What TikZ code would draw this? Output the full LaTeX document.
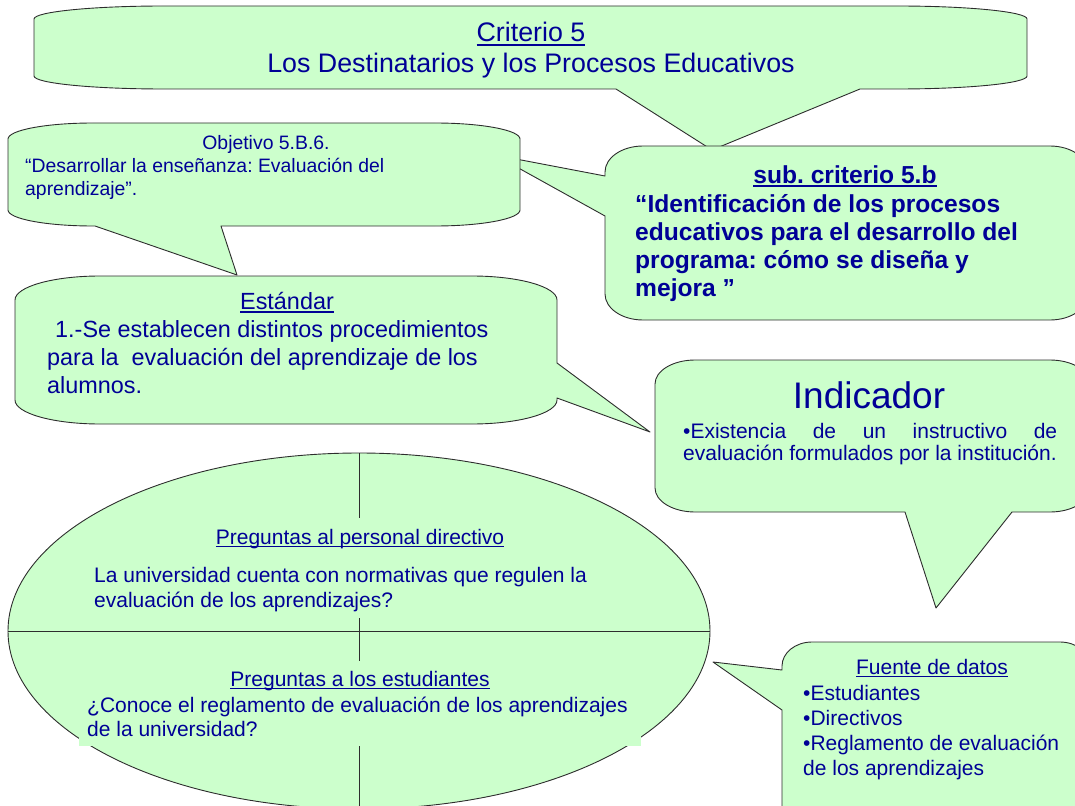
\documentclass[tikz,border=0pt]{standalone}
\usepackage{fontspec}
\setmainfont{Liberation Sans}
\usepackage{tikz}
\usetikzlibrary{calc}
\usepackage{xcolor}
\definecolor{bubblegreen}{RGB}{204,255,204}
\definecolor{bubbleedge}{RGB}{45,45,45}
\definecolor{bubbletext}{RGB}{0,0,150}
\frenchspacing
% underline at a fixed depth below the baseline
\newcommand{\ulined}[1]{\setbox0\hbox{#1}\rlap{\rule[-0.15em]{\wd0}{0.07em}}\box0}

\tikzset{
  bubble/.style={fill=bubblegreen,draw=bubbleedge,line width=0.9pt,line join=round},
  txt/.style={text=bubbletext,inner sep=0pt,anchor=base west},
  ctxt/.style={text=bubbletext,inner sep=0pt,anchor=base},
  critfont/.style={font=\fontsize{26.8}{32}\selectfont},
  subfont/.style={font=\fontsize{24.6}{29}\selectfont\bfseries},
  objfont/.style={font=\fontsize{19.4}{23}\selectfont},
  stdfont/.style={font=\fontsize{23.4}{28}\selectfont},
  bodyfont/.style={font=\fontsize{21}{25}\selectfont},
}

\begin{document}
\begin{tikzpicture}[x=1pt,y=-1pt]
\useasboundingbox (0,0) rectangle (1075,805);
\clip (0,0) rectangle (1075,805);

% TOP: Criterio 5
\draw[bubble] (164,6) -- (897,6) arc[start angle=90,end angle=0,x radius=130pt,y radius=13pt]
  -- (1027,76) arc[start angle=0,end angle=-90,x radius=130pt,y radius=13pt]
  -- (860,89) -- (712,150) -- (616,89)
  -- (164,89) arc[start angle=270,end angle=180,x radius=130pt,y radius=13pt]
  -- (34,19) arc[start angle=180,end angle=90,x radius=130pt,y radius=13pt] -- cycle;
\node[ctxt,critfont] (crit1) at (531,42) {\ulined{Criterio 5}};
\node[ctxt,critfont] (crit2) at (531,73) {Los Destinatarios y los Procesos Educativos};

% RIGHT: sub criterio 5.b
\draw[bubble] (643,146) -- (1050,146) arc[start angle=90,end angle=0,x radius=38pt,y radius=26pt]
  -- (1088,294) arc[start angle=0,end angle=-90,x radius=38pt,y radius=26pt]
  -- (643,320) arc[start angle=270,end angle=180,x radius=38pt,y radius=26pt]
  -- (605,216) -- (495,155) -- (605,176)
  -- (605,172) arc[start angle=180,end angle=90,x radius=38pt,y radius=26pt] -- cycle;
\node[ctxt,subfont] (sub0) at (845,183) {\ulined{sub. criterio 5.b}};
\foreach \t [count=\i] in {“Identificación de los procesos,
    educativos para el desarrollo del,
    programa: cómo se diseña y,
    mejora ”} {
  \node[txt,subfont] (sub\i) at (635,183.7+28.3*\i) {\t};
}

% LEFT: Objetivo 5.B.6.
\draw[bubble] (93,123) -- (435,123) arc[start angle=90,end angle=0,x radius=85pt,y radius=16pt]
  -- (520,210) arc[start angle=0,end angle=-90,x radius=85pt,y radius=16pt]
  -- (221,226) -- (237,275) -- (95,226)
  -- (93,226) arc[start angle=270,end angle=180,x radius=85pt,y radius=16pt]
  -- (8,139) arc[start angle=180,end angle=90,x radius=85pt,y radius=16pt] -- cycle;
\node[ctxt,objfont] (obj0) at (266,150) {Objetivo 5.B.6.};
\node[txt,objfont] (obj1) at (25,173) {“Desarrollar la enseñanza: Evaluación del};
\node[txt,objfont] (obj2) at (25,195) {aprendizaje”.};

% LEFT: Estandar
\draw[bubble] (100,276) -- (472,276) arc[start angle=90,end angle=0,x radius=85pt,y radius=24pt]
  -- (557,363) -- (650,432) -- (557,398)
  -- (557,400) arc[start angle=0,end angle=-90,x radius=85pt,y radius=24pt]
  -- (100,424) arc[start angle=270,end angle=180,x radius=85pt,y radius=24pt]
  -- (15,300) arc[start angle=180,end angle=90,x radius=85pt,y radius=24pt] -- cycle;
\node[ctxt,stdfont] (std0) at (287,309) {\ulined{Estándar}};
\node[txt,stdfont] (std1) at (55,337) {1.-Se establecen distintos procedimientos};
\node[txt,stdfont] (std2) at (47,365) {para la~ evaluación del aprendizaje de los};
\node[txt,stdfont] (std3) at (47,393) {alumnos.};

% RIGHT: Indicador
\draw[bubble] (695,360) -- (1050,360) arc[start angle=90,end angle=0,x radius=40pt,y radius=24pt]
  -- (1090,488) arc[start angle=0,end angle=-90,x radius=40pt,y radius=24pt]
  -- (1012,512) -- (936,608) -- (905,512)
  -- (695,512) arc[start angle=270,end angle=180,x radius=40pt,y radius=24pt]
  -- (655,384) arc[start angle=180,end angle=90,x radius=40pt,y radius=24pt] -- cycle;
\node[ctxt,font=\fontsize{37}{44}\selectfont] (ind0) at (869,408) {Indicador};
\node[txt,bodyfont] (ind1) at (683,438) {\makebox[374pt][s]{•Existencia de un instructivo de}};
\node[txt,bodyfont] (ind2) at (683,460) {evaluación formulados por la institución.};

% BOTTOM: preguntas (ellipse split in four)
\draw[bubble] (359,631) ellipse[x radius=351,y radius=178];
\draw[bubbleedge,line width=0.9pt] (8,631) -- (710,631);
\draw[bubbleedge,line width=0.9pt] (359,453) -- (359,810);
\fill[bubblegreen] (90,518) rectangle (630,618);
\fill[bubblegreen] (79,661) rectangle (641,746);
\node[ctxt,bodyfont] (dir0) at (360,544) {\ulined{Preguntas al personal directivo}};
\node[txt,bodyfont] (dir1) at (94,582) {La universidad cuenta con normativas que regulen la};
\node[txt,bodyfont] (dir2) at (94,607) {evaluación de los aprendizajes?};
\node[ctxt,bodyfont] (est0) at (360,686) {\ulined{Preguntas a los estudiantes}};
\node[txt,bodyfont] (est1) at (87,712) {¿Conoce el reglamento de evaluación de los aprendizajes};
\node[txt,bodyfont] (est2) at (87,736) {de la universidad?};

% BOTTOM RIGHT: Fuente de datos
\draw[bubble] (812,642) -- (1060,642) arc[start angle=90,end angle=0,x radius=30pt,y radius=24pt]
  -- (1090,816) arc[start angle=0,end angle=-90,x radius=30pt,y radius=24pt]
  -- (812,840) arc[start angle=270,end angle=180,x radius=30pt,y radius=24pt]
  -- (782,710) -- (713,662) -- (782,670)
  -- (782,666) arc[start angle=180,end angle=90,x radius=30pt,y radius=24pt] -- cycle;
\node[ctxt,bodyfont] (src0) at (932,674) {\ulined{Fuente de datos}};
\foreach \t [count=\i] in {•Estudiantes, •Directivos, •Reglamento de evaluación, de los aprendizajes} {
  \node[txt,bodyfont] (src\i) at (803,675+25*\i) {\t};
}

\end{tikzpicture}
\end{document}
